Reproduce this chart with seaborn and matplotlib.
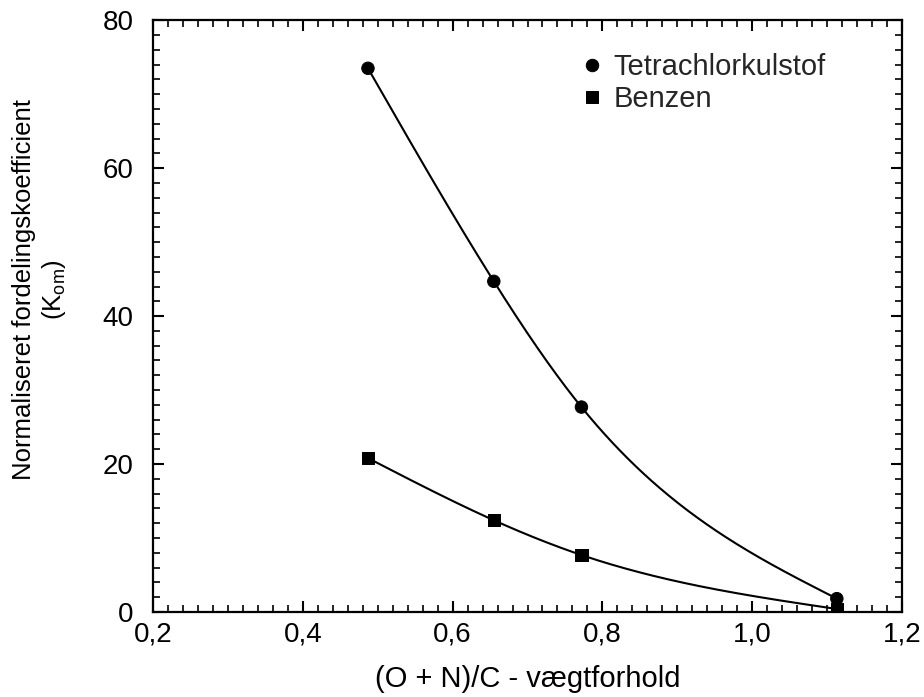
import numpy as np
import pandas as pd
import matplotlib
matplotlib.use("Agg")
import matplotlib.pyplot as plt
import seaborn as sns
from matplotlib.ticker import MultipleLocator, FuncFormatter

# Data
x_tetra = [0.487, 0.655, 0.772, 1.113]
y_tetra = [73.5, 44.7, 27.7, 1.8]
x_benzen = [0.487, 0.655, 0.772, 1.113]
y_benzen = [20.8, 12.4, 7.7, 0.4]
series_names = ["Tetrachlorkulstof", "Benzen"]

sns.set_theme(style="white")
plt.rcParams['font.family'] = ['Liberation Sans', 'DejaVu Sans']
plt.rcParams['mathtext.fontset'] = 'custom'
plt.rcParams['mathtext.rm'] = 'Liberation Sans'
plt.rcParams['mathtext.it'] = 'Liberation Sans'


def natural_spline(x, y, n=300):
    # smooth line through the data points (natural cubic spline)
    x = np.asarray(x, float); y = np.asarray(y, float)
    k = len(x)
    h = np.diff(x)
    A = np.zeros((k, k)); b = np.zeros(k)
    A[0, 0] = 1; A[-1, -1] = 1
    for i in range(1, k - 1):
        A[i, i - 1] = h[i - 1]
        A[i, i] = 2 * (h[i - 1] + h[i])
        A[i, i + 1] = h[i]
        b[i] = 3 * ((y[i + 1] - y[i]) / h[i] - (y[i] - y[i - 1]) / h[i - 1])
    c = np.linalg.solve(A, b)
    xs = np.linspace(x[0], x[-1], n)
    ys = np.empty_like(xs)
    for j, xv in enumerate(xs):
        i = min(np.searchsorted(x, xv, side='right') - 1, k - 2)
        dx = xv - x[i]
        bi = (y[i + 1] - y[i]) / h[i] - h[i] * (2 * c[i] + c[i + 1]) / 3
        di = (c[i + 1] - c[i]) / (3 * h[i])
        ys[j] = y[i] + bi * dx + c[i] * dx ** 2 + di * dx ** 3
    return xs, ys


fig = plt.figure(figsize=(9.24, 6.97), dpi=100)
ax = fig.add_axes([0.1656, 0.122, 0.8106, 0.849])

df = pd.DataFrame({
    "x": x_tetra + x_benzen,
    "y": y_tetra + y_benzen,
    "serie": [series_names[0]] * len(x_tetra) + [series_names[1]] * len(x_benzen),
})

curves = []
for name, xx, yy in [(series_names[0], x_tetra, y_tetra), (series_names[1], x_benzen, y_benzen)]:
    xs, ys = natural_spline(xx, yy)
    curves.append(pd.DataFrame({"x": xs, "y": ys, "serie": name}))
cdf = pd.concat(curves)

sns.lineplot(data=cdf, x="x", y="y", units="serie", estimator=None, color="black",
             linewidth=1.5, ax=ax, legend=False, sort=False)
sns.scatterplot(data=df, x="x", y="y", style="serie", markers={series_names[0]: "o", series_names[1]: "s"},
                color="black", s=80, edgecolor="black", ax=ax, zorder=3)

ax.set_xlim(0.2, 1.2)
ax.set_ylim(0, 80)
ax.xaxis.set_major_locator(MultipleLocator(0.2))
ax.xaxis.set_minor_locator(MultipleLocator(0.02))
ax.yaxis.set_major_locator(MultipleLocator(20))
ax.yaxis.set_minor_locator(MultipleLocator(2))
ax.xaxis.set_major_formatter(FuncFormatter(lambda v, p: f"{v:.1f}".replace(".", ",")))
ax.yaxis.set_major_formatter(FuncFormatter(lambda v, p: f"{v:.0f}"))
ax.tick_params(which="both", direction="in", top=True, right=True, left=True, bottom=True,
               color="black", labelsize=20, labelcolor="black")
ax.tick_params(which="major", length=8, width=1.5)
ax.tick_params(which="minor", length=5, width=1.2)
ax.tick_params(axis="y", which="major", pad=14)
ax.tick_params(axis="x", which="major", pad=7)
for s in ax.spines.values():
    s.set_visible(True)
    s.set_color("black")
    s.set_linewidth(1.6)

ax.set_xlabel("(O + N)/C - vægtforhold", fontsize=21, color="black")
ax.xaxis.set_label_coords(0.5, -0.09)
ax.set_ylabel("Normaliseret fordelingskoefficient\n(K$_{\\mathrm{om}}$)", fontsize=18.5,
              color="black", linespacing=1.15)
ax.yaxis.set_label_coords(-0.114, 0.545)

leg = ax.legend(loc="upper left", bbox_to_anchor=(0.609, 0.941), bbox_transform=fig.transFigure,
                borderaxespad=0, frameon=False, fontsize=21,
                handletextpad=0.15, labelspacing=0.15, markerscale=1.0, title=None,
                handlelength=1.2)

fig.savefig("out.png", dpi=100)
